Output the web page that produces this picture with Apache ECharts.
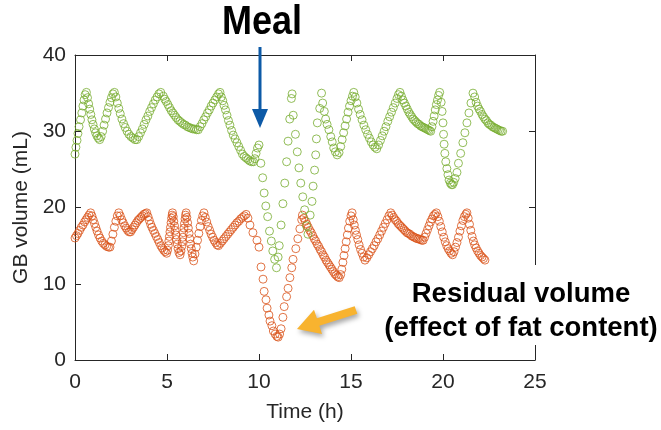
<!DOCTYPE html>
<html>
<head>
<meta charset="utf-8">
<script src="https://cdn.jsdelivr.net/npm/echarts@6/dist/echarts.min.js"></script>
<style>
  html, body { margin: 0; padding: 0; background: #fff; }
  #chart { width: 661px; height: 430px; }
</style>
</head>
<body>
<div id="chart"></div>
<script>
// Gallbladder volume over a day: [time (h), volume (mL)]
const greenPoints = [
  [0.00,27.0],[0.05,27.9],[0.11,28.8],[0.16,29.7],[0.22,30.6],[0.30,31.5],[0.37,32.4],[0.43,33.3],[0.49,34.1],[0.55,34.8],[0.62,35.1],
  [0.68,34.4],[0.74,33.6],[0.80,32.9],[0.86,32.2],[0.92,31.5],[0.98,30.9],[1.05,30.3],[1.12,29.8],[1.19,29.4],[1.27,29.1],[1.34,28.9],
  [1.42,29.3],[1.50,30.0],[1.58,30.8],[1.66,31.6],[1.74,32.4],[1.82,33.1],[1.90,33.8],[1.98,34.4],[2.06,34.9],[2.14,35.1],
  [2.22,34.5],[2.30,33.7],[2.38,33.0],[2.46,32.3],[2.55,31.6],[2.64,31.0],[2.73,30.5],[2.83,30.0],[2.93,29.6],[3.04,29.3],[3.15,29.1],[3.26,28.9],[3.36,28.9],
  [3.46,29.3],[3.56,29.8],[3.66,30.3],[3.76,30.9],[3.86,31.5],[3.96,32.0],[4.06,32.6],[4.16,33.1],[4.26,33.6],[4.36,34.1],[4.46,34.5],[4.56,34.9],[4.66,35.1],
  [4.80,34.6],[4.88,34.2],[4.96,33.9],[5.05,33.5],[5.14,33.1],[5.23,32.7],[5.32,32.4],[5.41,32.1],[5.50,31.8],[5.60,31.5],[5.70,31.3],[5.80,31.1],[5.90,30.9],[6.00,30.8],[6.10,30.6],[6.20,30.5],[6.30,30.4],[6.40,30.3],[6.50,30.3],[6.60,30.2],[6.70,30.2],
  [6.80,30.6],[6.90,31.0],[7.00,31.5],[7.10,31.9],[7.20,32.4],[7.30,32.8],[7.40,33.3],[7.50,33.7],[7.60,34.1],[7.70,34.5],[7.80,34.9],[7.88,35.1],
  [7.95,34.5],[8.03,34.0],[8.10,33.4],[8.18,32.8],[8.26,32.1],[8.34,31.4],[8.42,30.8],[8.51,30.1],[8.60,29.5],[8.70,29.0],[8.80,28.5],[8.90,28.0],[9.00,27.5],[9.10,27.0],[9.20,26.7],[9.30,26.5],[9.40,26.3],[9.50,26.1],[9.60,26.0],[9.70,26.0],
  [9.78,26.4],[9.84,27.1],[9.92,27.8],[10.00,28.2],
  [10.10,25.8],[10.20,23.9],[10.28,21.9],[10.37,20.2],[10.47,18.8],[10.57,16.9],[10.67,15.6],[10.75,14.3],[10.85,13.2],[10.95,12.1],
  [11.04,13.5],[11.10,15.0],[11.20,17.7],[11.30,20.5],[11.40,23.2],[11.50,26.0],[11.58,28.7],[11.67,31.6],[11.76,34.3],[11.80,34.9],
  [11.86,32.1],[11.98,29.6],[12.08,27.3],[12.17,25.2],[12.27,23.2],[12.38,21.4],[12.48,19.7],[12.58,17.6],[12.66,16.5],
  [12.78,19.0],[12.88,20.8],[12.94,22.8],[13.02,24.9],[13.08,26.9],[13.12,29.0],[13.17,31.1],[13.30,33.0],[13.40,35.0],[13.46,33.7],
  [13.55,32.6],[13.62,31.6],[13.70,30.9],[13.80,30.2],[13.90,29.3],[13.98,28.6],[14.06,27.8],[14.15,27.3],[14.25,26.9],
  [14.35,27.2],[14.44,28.0],[14.52,28.9],[14.60,29.8],[14.68,30.7],[14.76,31.6],[14.84,32.5],[14.92,33.3],[15.00,34.0],[15.08,34.6],[15.15,35.1],
  [15.23,34.5],[15.32,33.7],[15.41,32.9],[15.50,32.2],[15.60,31.5],[15.70,30.8],[15.80,30.2],[15.90,29.6],[16.00,29.1],[16.10,28.6],[16.20,28.2],[16.30,27.9],[16.40,27.7],
  [16.50,28.2],[16.60,28.8],[16.70,29.4],[16.80,30.0],[16.90,30.6],[17.00,31.3],[17.10,31.9],[17.20,32.5],[17.30,33.1],[17.40,33.7],[17.50,34.3],[17.58,34.8],[17.66,35.1],
  [17.74,34.6],[17.82,34.1],[17.90,33.7],[17.98,33.3],[18.06,32.9],[18.14,32.5],[18.22,32.2],[18.30,31.9],[18.38,31.6],[18.46,31.4],[18.54,31.2],[18.62,31.0],[18.70,30.9],[18.78,30.7],[18.86,30.6],[18.94,30.5],[19.02,30.4],[19.10,30.3],[19.18,30.2],[19.26,30.1],[19.33,30.0],
  [19.40,30.6],[19.46,31.3],[19.52,32.0],[19.58,32.8],[19.64,33.5],[19.70,34.1],[19.76,34.7],[19.82,35.1],
  [19.90,33.8],[19.95,32.6],[20.00,31.1],[20.03,29.6],[20.06,28.3],[20.10,27.1],[20.15,26.0],[20.21,25.1],[20.27,24.3],[20.33,23.6],[20.40,23.2],[20.46,23.0],[20.52,23.0],
  [20.58,23.3],[20.66,23.8],[20.76,24.6],[20.84,25.8],[20.96,27.1],[21.08,28.5],[21.19,29.8],[21.30,31.1],[21.41,32.4],[21.52,33.7],[21.63,35.0],
  [21.72,34.5],[21.80,33.8],[21.88,33.3],[21.96,32.9],[22.04,32.6],[22.12,32.2],[22.20,31.9],[22.28,31.6],[22.36,31.4],[22.44,31.1],[22.52,30.9],[22.60,30.8],[22.68,30.6],[22.76,30.5],[22.84,30.4],[22.92,30.3],[23.00,30.2],[23.08,30.1],[23.16,30.0],[23.24,30.0]
];

const orangePoints = [
  [0.00,16.0],[0.08,16.3],[0.16,16.6],[0.25,17.0],[0.34,17.4],[0.43,17.7],[0.52,18.1],[0.60,18.4],[0.68,18.7],[0.76,19.0],[0.85,19.3],
  [0.92,18.9],[0.99,18.4],[1.06,17.9],[1.13,17.4],[1.20,16.9],[1.28,16.4],[1.36,16.0],[1.45,15.6],[1.54,15.3],[1.63,15.1],[1.72,14.9],[1.82,14.8],[1.90,14.8],
  [1.98,15.6],[2.06,16.5],[2.14,17.4],[2.22,18.2],[2.30,18.9],[2.38,19.3],
  [2.46,18.9],[2.54,18.4],[2.62,18.0],[2.70,17.6],[2.78,17.3],[2.86,17.0],[2.94,16.8],[3.02,16.8],
  [3.10,17.1],[3.18,17.4],[3.26,17.7],[3.34,18.0],[3.42,18.3],[3.50,18.5],[3.58,18.7],[3.66,18.9],[3.74,19.1],[3.82,19.2],[3.90,19.3],
  [3.97,18.8],[4.04,18.3],[4.11,17.8],[4.18,17.4],[4.26,17.0],[4.34,16.6],[4.42,16.2],[4.50,15.8],[4.58,15.4],[4.66,15.0],[4.74,14.7],[4.82,14.4],[4.90,14.2],[4.98,14.0],
  [5.03,14.4],[5.07,15.0],[5.10,15.6],[5.13,16.2],[5.16,16.8],[5.19,17.4],[5.22,18.0],[5.25,18.6],[5.28,19.0],[5.30,19.3],
  [5.34,18.8],[5.37,18.2],[5.41,17.6],[5.44,17.0],[5.48,16.4],[5.52,15.8],[5.56,15.2],[5.60,14.6],[5.65,14.1],[5.71,13.8],
  [5.76,14.3],[5.80,14.9],[5.83,15.5],[5.86,16.1],[5.89,16.7],[5.92,17.3],[5.95,17.9],[5.98,18.5],[6.01,19.0],[6.04,19.3],
  [6.08,18.7],[6.12,18.0],[6.16,17.3],[6.20,16.6],[6.24,15.9],[6.28,15.2],[6.32,14.6],[6.36,14.0],[6.40,13.5],[6.45,13.0],
  [6.52,13.9],[6.59,14.8],[6.66,15.7],[6.73,16.6],[6.80,17.5],[6.87,18.3],[6.94,18.9],[7.01,19.3],
  [7.08,18.7],[7.16,18.1],[7.24,17.5],[7.32,17.0],[7.40,16.5],[7.48,16.1],[7.56,15.7],[7.64,15.4],[7.72,15.1],[7.80,15.0],
  [7.90,15.3],[8.00,15.6],[8.10,15.9],[8.20,16.2],[8.30,16.5],[8.40,16.8],[8.50,17.1],[8.60,17.4],[8.70,17.7],[8.80,18.0],[8.90,18.2],[9.00,18.5],[9.10,18.7],[9.20,18.9],[9.30,19.1],
  [9.40,18.6],[9.51,17.7],[9.67,16.7],[9.89,15.7],[10.00,14.8],
  [10.11,12.2],[10.22,10.6],[10.28,9.0],[10.38,7.9],[10.44,6.8],[10.54,5.9],[10.60,5.1],[10.70,4.5],[10.78,3.8],[10.88,3.4],[10.97,3.1],[11.04,3.0],[11.12,3.4],
  [11.20,4.1],[11.30,5.6],[11.37,7.0],[11.50,8.3],[11.58,9.4],[11.68,10.8],[11.78,12.1],[11.85,13.2],[12.00,14.6],[12.11,15.9],[12.22,17.2],[12.32,18.4],[12.36,19.0],
  [12.44,18.6],[12.52,18.2],[12.60,17.8],[12.68,17.4],[12.76,17.0],[12.84,16.7],[12.92,16.3],[13.00,15.9],[13.08,15.6],[13.16,15.2],[13.24,14.9],[13.32,14.5],[13.40,14.2],[13.48,13.8],[13.56,13.5],[13.64,13.1],[13.72,12.8],[13.80,12.5],[13.88,12.2],[13.96,11.9],[14.04,11.6],[14.12,11.3],[14.20,11.1],[14.28,10.9],[14.36,10.8],
  [14.44,11.2],[14.50,11.9],[14.56,12.8],[14.62,13.7],[14.68,14.6],[14.74,15.5],[14.80,16.4],[14.86,17.3],[14.93,18.2],[15.00,18.9],[15.06,19.3],
  [15.12,18.4],[15.18,17.7],[15.24,17.0],[15.30,16.4],[15.37,15.8],[15.44,15.1],[15.52,14.5],[15.60,14.0],[15.68,13.5],[15.76,13.1],
  [15.86,13.4],[15.96,13.8],[16.06,14.2],[16.16,14.6],[16.26,15.0],[16.36,15.5],[16.46,15.9],[16.56,16.4],[16.66,16.9],[16.76,17.4],[16.86,17.9],[16.96,18.4],[17.06,18.9],[17.16,19.3],
  [17.24,19.0],[17.32,18.7],[17.40,18.4],[17.48,18.2],[17.56,17.9],[17.64,17.7],[17.72,17.5],[17.80,17.3],[17.88,17.1],[17.96,16.9],[18.04,16.7],[18.12,16.6],[18.20,16.5],[18.28,16.3],[18.36,16.2],[18.44,16.1],[18.52,16.0],[18.60,15.9],[18.68,15.9],[18.76,15.8],[18.84,15.7],[18.92,15.7],
  [19.00,16.1],[19.08,16.6],[19.16,17.1],[19.24,17.6],[19.32,18.1],[19.40,18.5],[19.48,18.9],[19.56,19.1],[19.64,19.3],
  [19.72,18.8],[19.80,18.2],[19.88,17.5],[19.96,16.8],[20.04,16.1],[20.12,15.5],[20.20,15.0],[20.28,14.6],[20.36,14.3],[20.44,14.0],[20.52,13.8],
  [20.60,14.2],[20.68,14.8],[20.76,15.4],[20.84,16.1],[20.92,16.9],[21.00,17.6],[21.08,18.3],[21.16,18.8],[21.24,19.1],[21.30,19.3],
  [21.37,18.6],[21.44,17.8],[21.51,17.0],[21.58,16.2],[21.65,15.6],[21.72,15.1],[21.80,14.7],[21.88,14.3],[21.96,14.0],[22.04,13.7],[22.12,13.5],[22.20,13.3],[22.28,13.1]
];

// Axis ranges and ticks
const xRange = [0, 25];
const xStep = 5;
const yRange = [0, 40];
const yStep = 10;

// Annotation texts
const mealLabel = 'Meal';
const residualLines = ['Residual volume', '(effect of fat content)'];

const axisColor = '#262626';
const labelFont = '"Liberation Sans", Arial, Helvetica, sans-serif';

const chart = echarts.init(document.getElementById('chart'), null, { renderer: 'canvas' });

function boxAxis(min, max, step, pos, showLabels, name, nameGap, labelMargin) {
  return {
    type: 'value',
    min: min, max: max, interval: step,
    position: pos,
    name: showLabels ? name : '',
    nameLocation: 'middle',
    nameGap: nameGap,
    nameTextStyle: { color: axisColor, fontSize: 21, fontFamily: labelFont },
    axisLine: { show: true, onZero: false, lineStyle: { color: axisColor, width: 1 } },
    axisTick: { show: true, inside: true, length: 6, lineStyle: { color: axisColor, width: 1 } },
    axisLabel: { show: showLabels, color: axisColor, fontSize: 21, fontFamily: labelFont, margin: labelMargin },
    splitLine: { show: false }
  };
}

const circleStyle = (c) => ({ color: 'rgba(0,0,0,0)', borderColor: c, borderWidth: 1 });
const boldFont = (px) => 'bold ' + px + 'px "Liberation Sans", Arial, sans-serif';

chart.setOption({
  animation: false,
  backgroundColor: '#fff',
  grid: { left: 75, top: 55, width: 460, height: 305, show: false },
  xAxis: [
    boxAxis(xRange[0], xRange[1], xStep, 'bottom', true, 'Time (h)', 42, 12),
    boxAxis(xRange[0], xRange[1], xStep, 'top', false, '', 0, 0)
  ],
  yAxis: [
    boxAxis(yRange[0], yRange[1], yStep, 'left', true, 'GB volume (mL)', 31, 9),
    boxAxis(yRange[0], yRange[1], yStep, 'right', false, '', 0, 0)
  ],
  series: [
    {
      type: 'scatter', name: 'orange', data: orangePoints,
      symbol: 'circle', symbolSize: 8,
      itemStyle: circleStyle('#d95319'),
      emphasis: { disabled: true }, silent: true
    },
    {
      type: 'scatter', name: 'green', data: greenPoints,
      symbol: 'circle', symbolSize: 8,
      itemStyle: circleStyle('#77ac30'),
      emphasis: { disabled: true }, silent: true
    }
  ],
  graphic: [
    {
      type: 'text', z: 100, x: 262, y: 23, scaleX: 0.9,
      style: { text: mealLabel, x: 0, y: 0, textAlign: 'center', textVerticalAlign: 'middle',
               font: boldFont(40), fill: '#000' }
    },
    {
      type: 'line', z: 100,
      shape: { x1: 260, y1: 47, x2: 260, y2: 112 },
      style: { stroke: '#0d5aa7', lineWidth: 3 }
    },
    {
      type: 'polygon', z: 100,
      shape: { points: [[252, 109], [268, 109], [260, 128]] },
      style: { fill: '#0d5aa7' }
    },
    {
      type: 'polygon', z: 100,
      shape: { points: [[354.7, 306.2], [316.9, 318.2], [314.0, 309.8], [297, 329], [322.0, 334.0], [319.3, 325.8], [357.3, 313.8]] },
      style: { fill: '#f8b32f', shadowBlur: 5, shadowColor: 'rgba(0,0,0,0.35)', shadowOffsetX: 2, shadowOffsetY: 3 }
    },
    {
      // white backing box of the text callout, drawn over the right frame edge
      type: 'rect', z: 90,
      shape: { x: 382, y: 265, width: 279, height: 80 },
      style: { fill: '#fff' }
    },
    {
      type: 'text', z: 100,
      style: { text: residualLines[0], x: 521, y: 294, textAlign: 'center', textVerticalAlign: 'middle',
               font: boldFont(27.5), fill: '#000' }
    },
    {
      type: 'text', z: 100,
      style: { text: residualLines[1], x: 521, y: 328, textAlign: 'center', textVerticalAlign: 'middle',
               font: boldFont(27.5), fill: '#000' }
    }
  ]
});
</script>
</body>
</html>
